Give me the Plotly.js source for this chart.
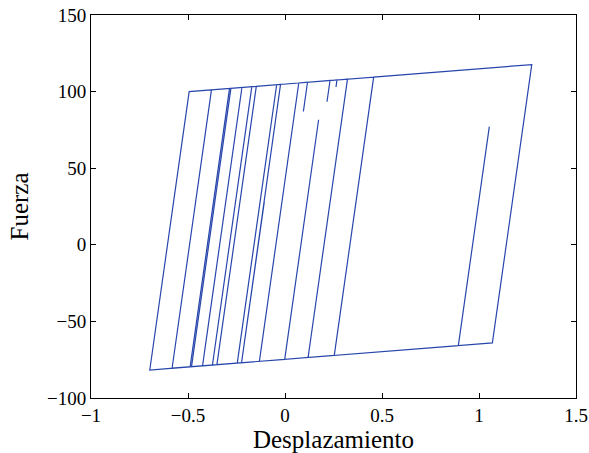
<!DOCTYPE html>
<html>
<head>
<meta charset="utf-8">
<script src="https://cdn.plot.ly/plotly-3.0.1.min.js"></script>
<style>html,body{margin:0;padding:0;background:#fff;}#chart{width:589px;height:453px;}</style>
</head>
<body>
<div id="chart"></div>
<script>
// Hysteresis path vertices (Desplazamiento, Fuerza)
const desplazamiento = [
  -0.132, 0.071, 0.116, 0.0947, 0.116, 0.232, 0.2165, 0.232, 0.268, 0.2629, 0.268, 0.322,
  0.119, -0.0015, 0.1732, -0.0015, -0.224, -0.1067, -0.224, -0.246, -0.043, 0.457,
  0.254, -0.351, -0.148, -0.023, -0.224, -0.425, -0.222, -0.171, -0.374,
  -0.489, -0.286, -0.2788, -0.4819, -0.697, -0.494, 0.457, 0.434, 0.457, 1.272,
  1.069, 0.8935, 1.0532, 0.8935, -0.582, -0.379
];
const fuerza = [
  -76.06, 105.64, 106.09, 87.0, 106.09, 107.25, 93.4, 107.25, 107.61, 103.0, 107.61, 108.15,
  -73.55, -74.76, 81.6, -74.76, -76.98, 28.0, -76.98, -77.20, 104.50, 109.50,
  -72.20, -78.25, 103.45, 104.70, -76.98, -78.99, 102.71, 103.22, -78.48,
  -79.63, 102.07, 102.14, -79.56, -81.71, 99.99, 109.50, 89.0, 109.50, 117.65,
  -64.05, -65.80, 77.1, -65.80, -80.56, 101.14
];
const xTicks = [-1, -0.5, 0, 0.5, 1, 1.5];
const xTickLabels = ['\u22121', '\u22120.5', '0', '0.5', '1', '1.5'];
const yTicks = [-100, -50, 0, 50, 100, 150];
const yTickLabels = ['\u2212100', '\u221250', '0', '50', '100', '150'];

const font = 'Liberation Serif, Times New Roman, serif';

Plotly.newPlot('chart', [{
  x: desplazamiento,
  y: fuerza,
  type: 'scatter',
  mode: 'lines',
  line: {color: '#2846ac', width: 1.2},
  hoverinfo: 'skip'
}], {
  width: 589, height: 453,
  margin: {l: 91, r: 13, t: 15, b: 55},
  paper_bgcolor: '#fff', plot_bgcolor: '#fff',
  showlegend: false,
  font: {family: font, size: 20, color: '#000'},
  xaxis: {
    range: [-1, 1.5], tickvals: xTicks, ticktext: xTickLabels,
    ticks: 'inside', ticklen: 5, tickcolor: '#000', tickwidth: 1,
    showline: true, linecolor: '#000', linewidth: 1, mirror: 'ticks',
    showgrid: false, zeroline: false, ticklabelstandoff: 0,
    tickfont: {family: font, size: 19, color: '#000'},
    title: {text: 'Desplazamiento', font: {family: font, size: 25, color: '#000'}, standoff: 1},
    automargin: false
  },
  yaxis: {
    range: [-100, 150], tickvals: yTicks, ticktext: yTickLabels,
    ticks: 'inside', ticklen: 5, tickcolor: '#000', tickwidth: 1,
    showline: true, linecolor: '#000', linewidth: 1, mirror: 'ticks',
    showgrid: false, zeroline: false, ticklabelstandoff: 0,
    tickfont: {family: font, size: 19, color: '#000'},
    title: {text: 'Fuerza', font: {family: font, size: 25, color: '#000'}, standoff: 11},
    automargin: false
  }
}, {staticPlot: true, displayModeBar: false});
</script>
</body>
</html>
